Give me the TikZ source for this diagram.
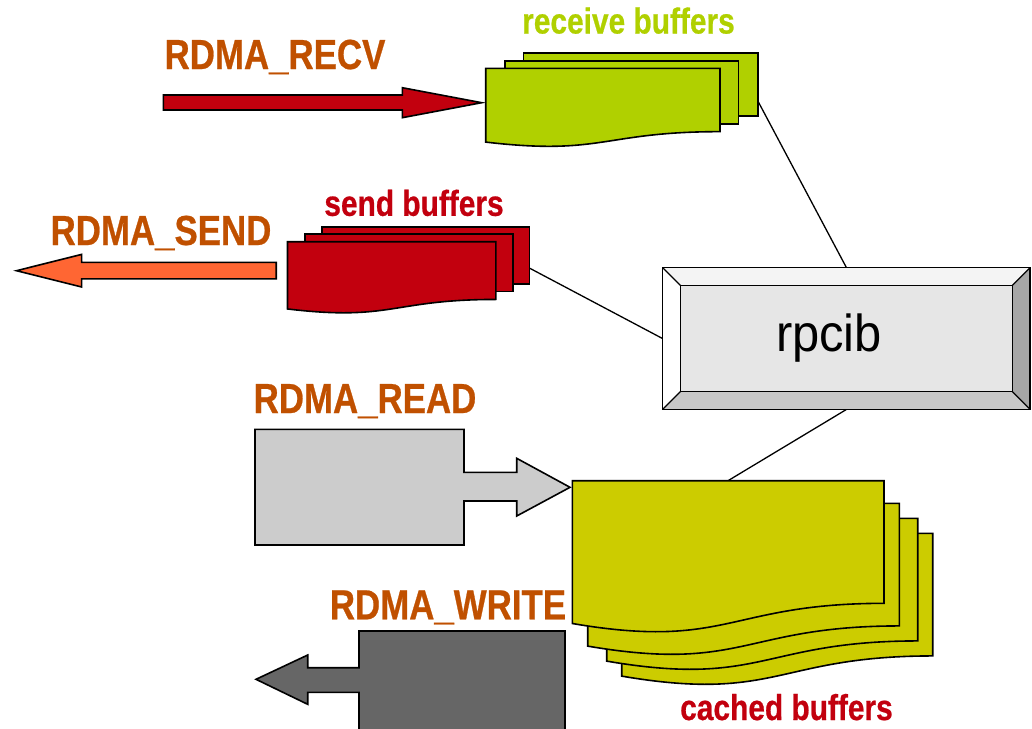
\documentclass[tikz,border=0pt]{standalone}
\usepackage{fontspec}
\setmainfont{Liberation Sans}
\newfontfamily\labelfont[FakeStretch=0.83,BoldFeatures={FakeBold=0.6}]{Liberation Sans}
\newfontfamily\boxfont[FakeStretch=0.94]{Liberation Sans}
\usetikzlibrary{calc}

\definecolor{labelbrown}{RGB}{192,80,0}
\definecolor{recvgreen}{RGB}{176,208,0}
\definecolor{sendred}{RGB}{194,0,14}
\definecolor{sendorange}{RGB}{255,102,51}
\definecolor{cacheolive}{RGB}{204,204,0}
\definecolor{readgray}{RGB}{204,204,204}
\definecolor{writegray}{RGB}{102,102,102}
\definecolor{bevtop}{RGB}{244,244,244}
\definecolor{bevleft}{RGB}{255,255,255}
\definecolor{bevright}{RGB}{166,166,166}
\definecolor{bevbottom}{RGB}{200,200,200}
\definecolor{bevface}{RGB}{230,230,230}

% document sheet with a wavy lower edge: x, y (top left), width, height, style
\newcommand\docsheet[5]{%
  \path[#5] (#1,#2) -- ({#1+#3},#2) -- ({#1+#3},{#2+0.802*#4})
    .. controls ({#1+0.5*#3},{#2+0.802*#4}) and ({#1+0.5*#3},{#2+1.108*#4})
    .. (#1,{#2+0.934*#4}) -- cycle;}

\begin{document}
\begin{tikzpicture}[x=1pt,y=-1pt,line join=miter,
  outline/.style={draw=black,line width=1.6pt},
  link/.style={draw=black,line width=1.3pt},
  oplabel/.style={font=\labelfont\bfseries\fontsize{42}{42}\selectfont,
    text=labelbrown,inner sep=0pt,anchor=base},
  buflabel/.style={font=\labelfont\bfseries\fontsize{36}{36}\selectfont,
    inner sep=0pt,anchor=base},
  bevel/.style={draw=black,line width=1.2pt}]
\useasboundingbox (0,0) rectangle (1032,728);

% the rpcib block (placed first so that the links can use its anchors)
\node[minimum width=367.3pt,minimum height=141.6pt,inner sep=0pt]
  (rpcib) at (846.35,338.5) {};

% attachment points on the buffer stacks
\coordinate (recvport) at (757.7,100.7);
\coordinate (sendport) at (529.3,268);
\coordinate (cacheport) at (728,480.7);

% links between the buffers and rpcib
\draw[link] (recvport) -- (rpcib.north);
\draw[link] (sendport) -- (rpcib.west);
\draw[link] (cacheport) -- (rpcib.south);

% bevelled rpcib block
\fill[bevtop] (rpcib.north west) -- (rpcib.north east)
  -- ($(rpcib.north east)+(-18,18)$) -- ($(rpcib.north west)+(18,18)$) -- cycle;
\fill[bevleft] (rpcib.north west) -- ($(rpcib.north west)+(18,18)$)
  -- ($(rpcib.south west)+(18,-18)$) -- (rpcib.south west) -- cycle;
\fill[bevright] (rpcib.north east) -- (rpcib.south east)
  -- ($(rpcib.south east)+(-18,-18)$) -- ($(rpcib.north east)+(-18,18)$) -- cycle;
\fill[bevbottom] (rpcib.south west) -- (rpcib.south east)
  -- ($(rpcib.south east)+(-18,-18)$) -- ($(rpcib.south west)+(18,-18)$) -- cycle;
\draw[bevel,fill=bevface] ($(rpcib.north west)+(18,18)$)
  rectangle ($(rpcib.south east)+(-18,-18)$);
\draw[bevel] (rpcib.north west) -- ($(rpcib.north west)+(18,18)$)
  (rpcib.north east) -- ($(rpcib.north east)+(-18,18)$)
  (rpcib.south west) -- ($(rpcib.south west)+(18,-18)$)
  (rpcib.south east) -- ($(rpcib.south east)+(-18,-18)$);
\draw[outline] (rpcib.north west) rectangle (rpcib.south east);
\node[font=\boxfont\fontsize{52}{52}\selectfont,inner sep=0pt,anchor=base]
  (rpcibtext) at (829,351.7) {rpcib};

% receive buffers
\draw[outline,fill=recvgreen] (523.3,52.7) rectangle (757.7,116);
\draw[outline,fill=recvgreen] (505,60.7) rectangle (738.3,124);
\docsheet{485.7}{68.3}{234.3}{79}{outline,fill=recvgreen}
\node[buflabel,text=recvgreen] (recvbuf) at (628.5,33.5) {receive buffers};

% send buffers
\draw[outline,fill=sendred] (322,227.2) rectangle (529.3,283.7);
\draw[outline,fill=sendred] (304.8,234) rectangle (513,291.6);
\docsheet{287.5}{241.7}{208.4}{72}{outline,fill=sendred}
\node[buflabel,text=sendred] (sendbuf) at (414,215.8) {send buffers};

% cached buffers
\docsheet{621.7}{533.3}{311}{152.9}{outline,fill=cacheolive}
\docsheet{606.7}{518.3}{311}{152.9}{outline,fill=cacheolive}
\docsheet{587.7}{503.3}{311.6}{152.9}{outline,fill=cacheolive}
\docsheet{572.3}{480.7}{311.7}{152.9}{outline,fill=cacheolive}
\node[buflabel,text=sendred] (cachebuf) at (786.5,720) {cached buffers};

% RDMA_RECV arrow
\draw[outline,fill=sendred] (163.3,95) -- (402.3,95) -- (402.3,87.7)
  -- (481.7,102.7) -- (402.3,117.7) -- (402.3,110) -- (163.3,110) -- cycle;
\node[oplabel] (recvop) at (275,69) {RDMA\_RECV};

% RDMA_SEND arrow
\draw[outline,fill=sendorange] (276.2,262.3) -- (81.6,262.3) -- (81.6,254.4)
  -- (16.5,270.7) -- (81.6,287) -- (81.6,278.8) -- (276.2,278.8) -- cycle;
\node[oplabel] (sendop) at (161,245) {RDMA\_SEND};

% RDMA_READ callout
\draw[outline,fill=readgray] (255,429.3) -- (464,429.3) -- (464,472.3)
  -- (516.7,472.3) -- (516.7,458.3) -- (570,487.3) -- (516.7,516)
  -- (516.7,501) -- (464,501) -- (464,545) -- (255,545) -- cycle;
\node[oplabel] (readop) at (365,413) {RDMA\_READ};

% RDMA_WRITE callout
\draw[outline,fill=writegray] (565,631) -- (565,745) -- (359,745)
  -- (359,692.3) -- (307.7,692.3) -- (307.7,704.3) -- (256,679.3)
  -- (307.7,655) -- (307.7,667.7) -- (359,667.7) -- (359,631) -- cycle;
\node[oplabel] (writeop) at (448,619.3) {RDMA\_WRITE};
\end{tikzpicture}
\end{document}
